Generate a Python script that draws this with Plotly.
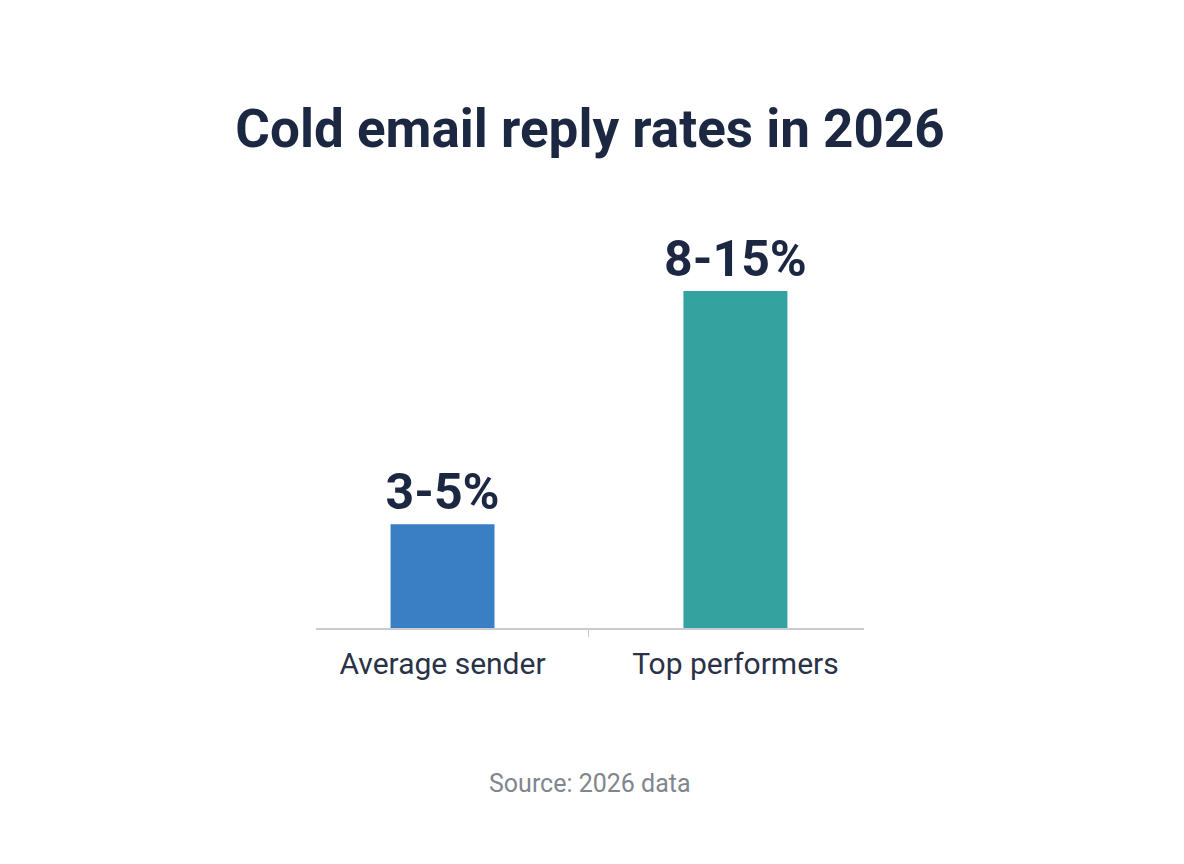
import plotly.graph_objects as go

categories = ["Average sender", "Top performers"]
values = [4, 13]
value_labels = ["3-5%", "8-15%"]
bar_colors = ["#3a7fc3", "#34a39f"]

fig = go.Figure()
fig.add_trace(go.Bar(
    x=categories,
    y=values,
    width=0.355,
    marker=dict(color=bar_colors, line=dict(width=0)),
    text=value_labels,
    textposition="outside",
    constraintext="none",
    textfont=dict(family="Roboto", size=50, color="#1c2742", weight="bold"),
    cliponaxis=False,
    hoverinfo="skip",
))

plot_t, plot_b = 200, 236
plot_h = 864 - plot_t - plot_b

fig.update_layout(
    width=1184, height=864,
    paper_bgcolor="white", plot_bgcolor="white",
    margin=dict(l=316, r=320, t=plot_t, b=plot_b),
    showlegend=False,
    title=dict(
        text="<b>Cold email reply rates in 2026</b>",
        x=0.5, xref="paper", xanchor="center",
        y=1 - 128 / 864, yref="container", yanchor="middle",
        font=dict(family="Roboto", size=53, color="#1c2742"),
    ),
    xaxis=dict(
        range=[-0.432, 1.439],
        showline=True, linecolor="#c8ccd2", linewidth=2,
        ticks="outside", tickson="boundaries", ticklen=7, tickcolor="#c8ccd2", tickwidth=1,
        ticklabelstandoff=8,
        tickfont=dict(family="Roboto", size=30, color="#2a3247"),
        showgrid=False, zeroline=False,
    ),
    yaxis=dict(
        range=[0, 16.51],
        visible=False, showgrid=False, zeroline=False,
    ),
    annotations=[dict(
        text="Source: 2026 data",
        x=0.5, xref="paper", xanchor="center",
        y=(864 - plot_b - 783) / plot_h, yref="paper", yanchor="middle",
        showarrow=False,
        font=dict(family="Roboto", size=25, color="#7f868e"),
    )],
)

fig.write_html("out.html")
